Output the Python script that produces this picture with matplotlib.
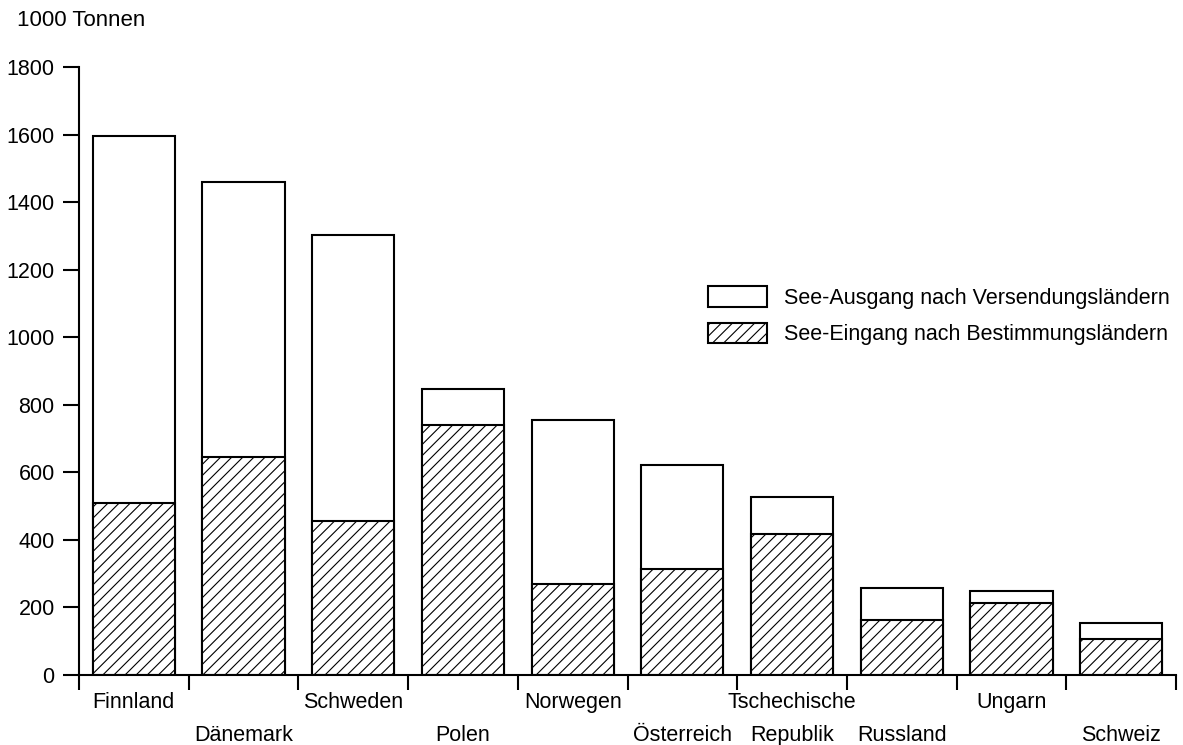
import matplotlib.pyplot as plt
from matplotlib.patches import Patch

plt.rcParams['font.family'] = ['Liberation Sans', 'DejaVu Sans']
plt.rcParams['hatch.linewidth'] = 0.8

laender = ["Finnland", "Dänemark", "Schweden", "Polen", "Norwegen",
           "Österreich", "Tschechische\nRepublik", "Russland", "Ungarn", "Schweiz"]
# white bars (full height) and hatched bars, in 1000 t
ausgang = [1595, 1461, 1302, 847, 756, 621, 528, 259, 249, 155]
eingang = [509, 645, 456, 739, 270, 314, 418, 163, 212, 108]

fig = plt.figure(figsize=(11.83, 7.45), dpi=100)
ax = fig.add_axes([79 / 1183, 1 - 675 / 745, (1176 - 79) / 1183, (675 - 67) / 745])

x = list(range(len(laender)))
ax.bar(x, ausgang, width=0.75, color="white", edgecolor="black", linewidth=1.5)
ax.bar(x, eingang, width=0.75, color="white", edgecolor="black", linewidth=1.5, hatch="///")

ax.set_xlim(-0.5, len(laender) - 0.5)
ax.set_ylim(0, 1800)
ax.set_yticks(range(0, 1801, 200))
ax.tick_params(axis="y", labelsize=15.5, length=11.5, width=1.5, pad=6)

# labels at bar centres, boundary ticks as minor ticks
ax.set_xticks(x)
ax.set_xticklabels(laender, fontsize=15.5)
ax.set_xticks([i - 0.5 for i in range(len(laender) + 1)], minor=True)
ax.tick_params(axis="x", which="major", length=0)
ax.tick_params(axis="x", which="minor", length=11, width=1.5)
for i, tick in enumerate(ax.xaxis.get_major_ticks()):
    tick.set_pad(12.5 if i % 2 == 0 else 36)
ax.get_xticklabels()[6].set_linespacing(1.7)

for s in ["top", "right"]:
    ax.spines[s].set_visible(False)
ax.spines["left"].set_linewidth(1.5)
ax.spines["bottom"].set_linewidth(1.5)

fig.text(17 / 1183, 1 - 20 / 745, "1000 Tonnen", fontsize=16, va="center")

handles = [Patch(facecolor="white", edgecolor="black", linewidth=1.5),
           Patch(facecolor="white", edgecolor="black", linewidth=1.5, hatch="///")]
ax.legend(handles, ["See-Ausgang nach Versendungsländern", "See-Eingang nach Bestimmungsländern"],
          loc="upper left", bbox_to_anchor=(708 / 1183, 1 - 286 / 745),
          bbox_transform=fig.transFigure, frameon=False, fontsize=15.5,
          handlelength=2.75, handleheight=1.1, handletextpad=0.8,
          labelspacing=0.65, borderpad=0, borderaxespad=0)

fig.savefig("out.png", dpi=100)
